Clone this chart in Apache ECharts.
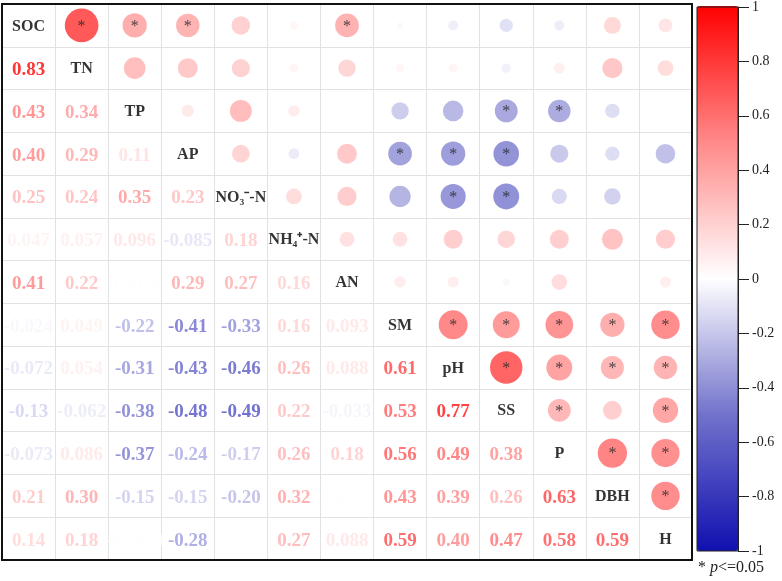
<!DOCTYPE html>
<html>
<head>
<meta charset="utf-8">
<script src="https://cdn.jsdelivr.net/npm/echarts@6/dist/echarts.min.js"></script>
<style>
  html, body { margin: 0; padding: 0; background: #fff; }
  #chart { width: 782px; height: 581px; }
</style>
</head>
<body>
<div id="chart"></div>
<script>
// variables, in matrix order
const vars = ['SOC', 'TN', 'TP', 'AP', 'NO₃⁻-N', 'NH₄⁺-N', 'AN', 'SM', 'pH', 'SS', 'P', 'DBH', 'H'];

// lower triangle of the correlation matrix, row by row (near-zero cells print invisibly)
const lower = [
    [],
    [0.83],
    [0.43, 0.34],
    [0.40, 0.29, 0.11],
    [0.25, 0.24, 0.35, 0.23],
    [0.047, 0.057, 0.096, -0.085, 0.18],
    [0.41, 0.22, 0.002, 0.29, 0.27, 0.16],
    [-0.024, 0.049, -0.22, -0.41, -0.33, 0.16, 0.093],
    [-0.072, 0.054, -0.31, -0.43, -0.46, 0.26, 0.088, 0.61],
    [-0.13, -0.062, -0.38, -0.48, -0.49, 0.22, -0.033, 0.53, 0.77],
    [-0.073, 0.086, -0.37, -0.24, -0.17, 0.26, 0.18, 0.56, 0.49, 0.38],
    [0.21, 0.30, -0.15, -0.15, -0.20, 0.32, 0.002, 0.43, 0.39, 0.26, 0.63],
    [0.14, 0.18, -0.002, -0.28, 0.001, 0.27, 0.088, 0.59, 0.40, 0.47, 0.58, 0.59]
];

// pairs with p <= 0.05 (row, col in the upper triangle)
const significant = [
    [0, 1], [0, 2], [0, 3], [0, 6],
    [2, 9], [2, 10],
    [3, 7], [3, 8], [3, 9],
    [4, 8], [4, 9],
    [7, 8], [7, 9], [7, 10], [7, 11], [7, 12],
    [8, 9], [8, 10], [8, 11], [8, 12],
    [9, 10], [9, 12],
    [10, 11], [10, 12],
    [11, 12]
];

const barTicks = [-1, 1, 0.2];

const serif = 'Liberation Serif';

function isSig(i, j) {
    return significant.some(p => p[0] === i && p[1] === j);
}

// colour of the printed numbers (a bit stronger than the circles)
function textColor(v) {
    const k = Math.min(1, Math.abs(v) * (v < 0 ? 1.5 : 1.2));
    const end = v < 0 ? [16, 16, 176] : [255, 0, 0];
    const c = end.map(e => Math.round(255 + (e - 255) * k));
    return 'rgb(' + c.join(',') + ')';
}

const circleData = [];
const numberData = [];
const diagData = [];
for (let i = 0; i < vars.length; i++) {
    diagData.push({ value: [i, i], name: vars[i] });
    for (let j = 0; j < i; j++) {
        const r = lower[i][j];
        numberData.push({
            value: [j, i, r],
            label: { color: textColor(r) }
        });
        // mirrored circle in the upper triangle: column i, row j
        circleData.push({
            value: [i, j, r],
            label: { show: isSig(j, i) }
        });
    }
}

const chart = echarts.init(document.getElementById('chart'));

const catAxis = {
    type: 'category',
    data: vars,
    gridIndex: 0,
    axisLabel: { show: false },
    axisTick: { show: false },
    axisLine: { show: false },
    splitLine: { show: true, interval: 0, lineStyle: { color: '#e2e2e2', width: 1 } }
};

const option = {
    backgroundColor: '#fff',
    animation: false,
    grid: [
        { left: 2, top: 4, width: 690, height: 556, show: true, borderColor: '#111', borderWidth: 2, z: 10 },
        { left: 697, top: 6, width: 41, height: 545, show: true, borderColor: '#222', borderWidth: 1, z: 10 }
    ],
    xAxis: [
        catAxis,
        { type: 'value', gridIndex: 1, show: false, min: 0, max: 1 }
    ],
    yAxis: [
        Object.assign({}, catAxis, { inverse: true }),
        {
            type: 'value',
            gridIndex: 1,
            position: 'right',
            min: barTicks[0],
            max: barTicks[1],
            interval: barTicks[2],
            z: 10,
            axisLine: { show: true, onZero: false, lineStyle: { color: '#222', width: 1 } },
            axisTick: { show: true, inside: false, length: 11, lineStyle: { color: '#222', width: 1 } },
            splitLine: { show: false },
            axisLabel: {
                margin: 14,
                fontFamily: serif,
                fontSize: 14,
                color: '#222',
                formatter: v => String(parseFloat(v.toFixed(1)))
            }
        }
    ],
    visualMap: {
        type: 'continuous',
        min: -1,
        max: 1,
        dimension: 2,
        seriesIndex: 0,
        left: 697,
        top: 6,
        padding: 0,
        itemWidth: 41,
        itemHeight: 545,
        calculable: false,
        hoverLink: false,
        inRange: { color: ['#1010b0', '#7272cc', '#ffffff', '#ff8a8a', '#ff0000'] }
    },
    series: [
        {
            type: 'scatter',
            xAxisIndex: 0,
            yAxisIndex: 0,
            data: circleData,
            symbol: 'circle',
            symbolSize: d => 37 * Math.sqrt(Math.abs(d[2])),
            label: {
                show: false,
                position: 'inside',
                formatter: '*',
                color: '#222',
                fontFamily: serif,
                fontSize: 16,
                offset: [0, 1]
            }
        },
        {
            type: 'scatter',
            xAxisIndex: 0,
            yAxisIndex: 0,
            data: numberData,
            symbolSize: 1,
            itemStyle: { color: 'transparent' },
            label: {
                show: true,
                position: 'inside',
                formatter: p => p.value[2].toPrecision(2),
                fontFamily: serif,
                fontWeight: 'bold',
                fontSize: 19,
                offset: [0, 2]
            }
        },
        {
            type: 'scatter',
            xAxisIndex: 0,
            yAxisIndex: 0,
            data: diagData,
            symbolSize: 1,
            itemStyle: { color: 'transparent' },
            label: {
                show: true,
                position: 'inside',
                formatter: '{b}',
                color: '#000',
                fontFamily: serif,
                fontWeight: 'bold',
                fontSize: 16,
                offset: [0, 1]
            }
        }
    ],
    graphic: [{
        type: 'text',
        left: 698,
        top: 560,
        style: {
            text: '* {i|p}<=0.05',
            fill: '#222',
            font: '16px "Liberation Serif"',
            rich: { i: { fontStyle: 'italic', fontFamily: serif, fontSize: 16, fill: '#222' } }
        }
    }]
};

chart.setOption(option);
</script>
</body>
</html>
